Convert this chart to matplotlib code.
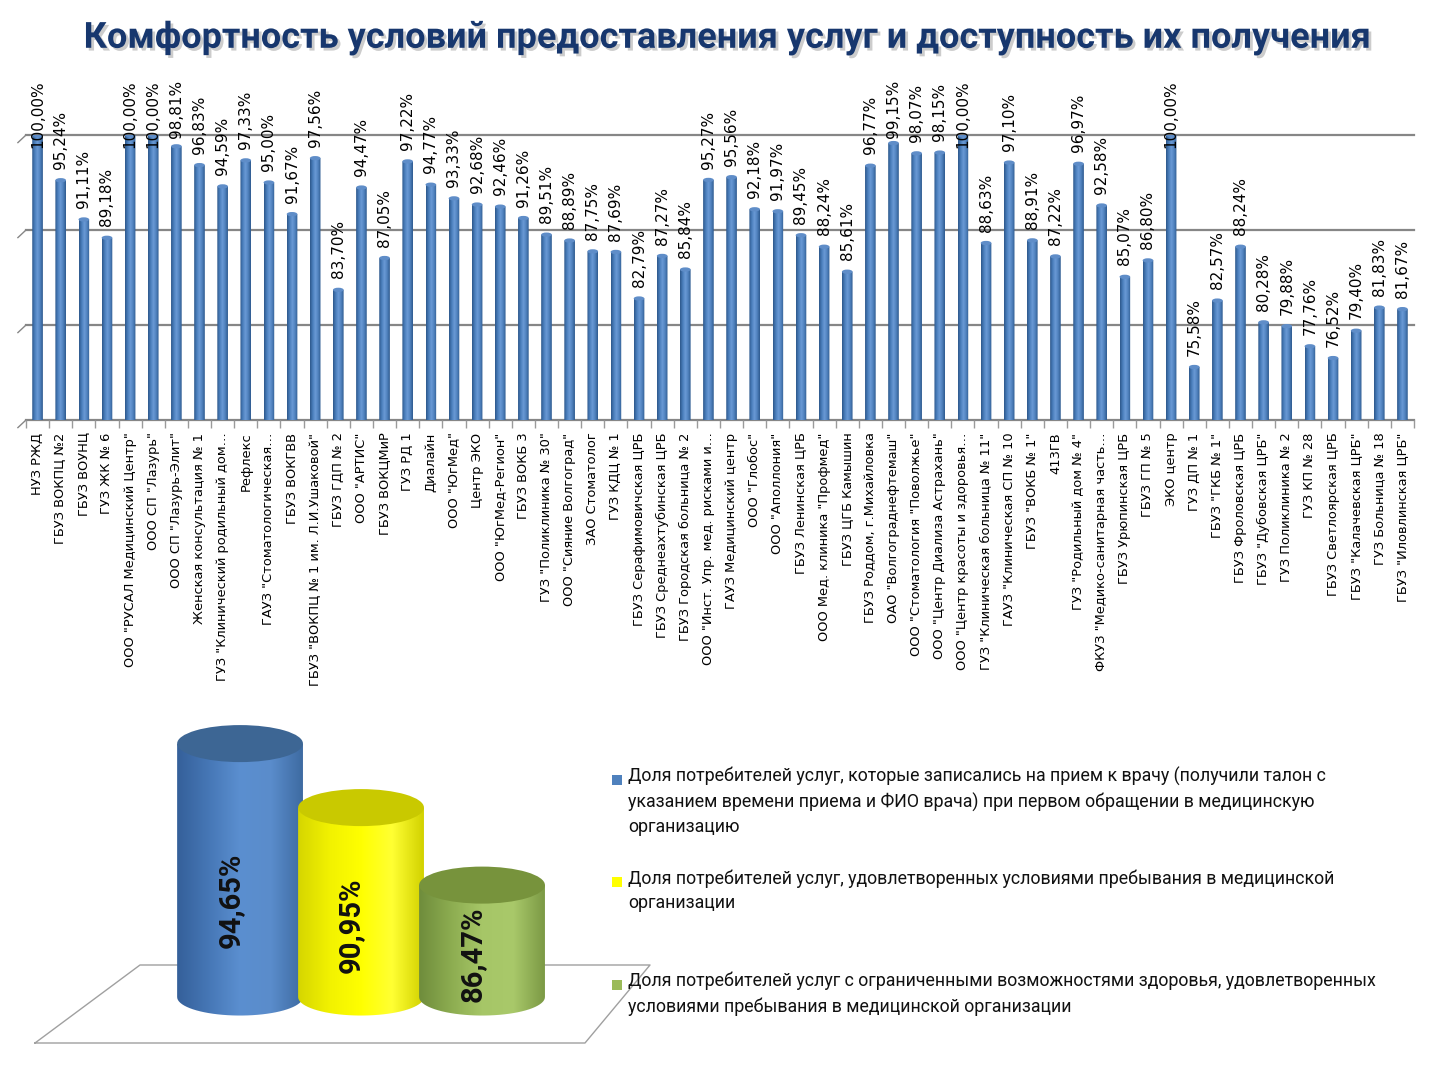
import numpy as np
import matplotlib
matplotlib.use("Agg")
import matplotlib.pyplot as plt
from matplotlib.colors import LinearSegmentedColormap
from matplotlib.patches import Ellipse, PathPatch
from matplotlib.path import Path
from matplotlib.lines import Line2D
from matplotlib.patches import Rectangle
import matplotlib.patheffects as pe

# --- data -------------------------------------------------------------
title = "Комфортность условий предоставления услуг и доступность их получения"

orgs = [
    "НУЗ РЖД", "ГБУЗ ВОКПЦ №2", "ГБУЗ ВОУНЦ", "ГУЗ ЖК № 6",
    "ООО \"РУСАЛ Медицинский Центр\"", "ООО СП \"Лазурь\"", "ООО СП \"Лазурь-Элит\"",
    "Женская консультация № 1", "ГУЗ \"Клинический родильный дом…", "Рефлекс",
    "ГАУЗ \"Стоматологическая…", "ГБУЗ ВОКГВВ", "ГБУЗ \"ВОКПЦ № 1 им. Л.И.Ушаковой\"",
    "ГБУЗ ГДП № 2", "ООО \"АРТИС\"", "ГБУЗ ВОКЦМиР", "ГУЗ РД 1", "Диалайн",
    "ООО \"ЮгМед\"", "Центр ЭКО", "ООО \"ЮгМед-Регион\"", "ГБУЗ ВОКБ 3",
    "ГУЗ \"Поликлиника № 30\"", "ООО \"Сияние Волгоград\"", "ЗАО Стоматолог",
    "ГУЗ КДЦ № 1", "ГБУЗ Серафимовичская ЦРБ", "ГБУЗ Среднеахтубинская ЦРБ",
    "ГБУЗ Городская больница № 2", "ООО \"Инст. Упр. мед. рисками и…",
    "ГАУЗ Медицинский центр", "ООО \"Глобос\"", "ООО \"Аполлония\"",
    "ГБУЗ Ленинская ЦРБ", "ООО Мед. клиника \"Профмед\"", "ГБУЗ ЦГБ Камышин",
    "ГБУЗ Роддом, г.Михайловка", "ОАО \"Волгограднефтемаш\"",
    "ООО \"Стоматология \"Поволжье\"", "ООО \"Центр Диализа Астрахань\"",
    "ООО \"Центр красоты и здоровья…", "ГУЗ \"Клиническая больница № 11\"",
    "ГАУЗ \"Клиническая СП № 10", "ГБУЗ \"ВОКБ № 1\"", "413ГВ",
    "ГУЗ \"Родильный дом № 4\"", "ФКУЗ \"Медико-санитарная часть…",
    "ГБУЗ Урюпинская ЦРБ", "ГБУЗ ГП № 5", "ЭКО центр", "ГУЗ ДП № 1",
    "ГБУЗ \"ГКБ № 1\"", "ГБУЗ Фроловская ЦРБ", "ГБУЗ \"Дубовская ЦРБ\"",
    "ГУЗ Поликлиника № 2", "ГУЗ КП № 28", "ГБУЗ Светлоярская ЦРБ",
    "ГБУЗ \"Калачевская ЦРБ\"", "ГУЗ Больница № 18", "ГБУЗ \"Иловлинская ЦРБ\"",
]

values = [
    100.00, 95.24, 91.11, 89.18, 100.00, 100.00, 98.81, 96.83, 94.59, 97.33,
    95.00, 91.67, 97.56, 83.70, 94.47, 87.05, 97.22, 94.77, 93.33, 92.68,
    92.46, 91.26, 89.51, 88.89, 87.75, 87.69, 82.79, 87.27, 85.84, 95.27,
    95.56, 92.18, 91.97, 89.45, 88.24, 85.61, 96.77, 99.15, 98.07, 98.15,
    100.00, 88.63, 97.10, 88.91, 87.22, 96.97, 92.58, 85.07, 86.80, 100.00,
    75.58, 82.57, 88.24, 80.28, 79.88, 77.76, 76.52, 79.40, 81.83, 81.67,
]

summary_labels = [
    "Доля потребителей услуг, которые записались на прием к врачу (получили талон с\n"
    "указанием времени приема и ФИО врача) при первом обращении в медицинскую\n"
    "организацию",
    "Доля потребителей услуг, удовлетворенных условиями пребывания в медицинской\n"
    "организации",
    "Доля потребителей услуг с ограниченными возможностями здоровья, удовлетворенных\n"
    "условиями пребывания в медицинской организации",
]
summary_values = [94.65, 90.95, 86.47]
summary_colors = ["#4F81BD", "#FFFF00", "#9BBB59"]
summary_shades = [
    ["#35609A", "#4677B6", "#5B8FD0", "#5A8CCB", "#3E6BA2"],
    ["#D6D600", "#F2F200", "#FFFF00", "#FFFF33", "#D2D200"],
    ["#6F8C3C", "#8CAC50", "#A6C667", "#A9C96A", "#7C9A45"],
]
summary_tops = ["#3D6694", "#C9C900", "#77933C"]


def pct(v):
    return f"{v:.2f}".replace(".", ",") + "%"


def cylinder(ax, x, base, top, w, eh, shades, topcolor, z):
    t = np.linspace(np.pi, 2 * np.pi, 40)
    pts = [(x - w / 2, top)]
    pts += list(zip(x + w / 2 * np.cos(t), base + eh / 2 * np.sin(t)))
    pts += [(x + w / 2, top), (x - w / 2, top)]
    codes = [Path.MOVETO] + [Path.LINETO] * (len(pts) - 2) + [Path.CLOSEPOLY]
    body = PathPatch(Path(pts, codes), facecolor="none", edgecolor="none", zorder=z)
    ax.add_patch(body)
    cmap = LinearSegmentedColormap.from_list("c", shades)
    grad = np.linspace(0, 1, 128).reshape(1, -1)
    im = ax.imshow(grad, cmap=cmap, aspect="auto", zorder=z,
                   extent=[x - w / 2, x + w / 2, base - eh / 2, top])
    im.set_clip_path(body)
    ax.add_patch(Ellipse((x, top), w, eh, facecolor=topcolor, edgecolor="none", zorder=z + 0.5))


plt.rcParams["font.family"] = ["DejaVu Sans"]
fig = plt.figure(figsize=(14.4, 10.8), dpi=100)

fig.text(0.505, 0.965, title, ha="center", va="center", fontsize=26, fontweight="bold",
         color="#17376E", family=["Roboto", "DejaVu Sans"],
         path_effects=[pe.withSimplePatchShadow(offset=(2, -2), shadow_rgbFace="#8F8F8F", alpha=0.45)])

# --- top chart: per-organisation bars --------------------------------
ax = fig.add_axes([26 / 1440, 1 - 420 / 1080, 1388 / 1440, 285 / 1080])
n = len(values)
x = np.arange(n)
bar_shades = ["#2C568A", "#4A7EBB", "#6A9AD6", "#4F81BD", "#2E5A8E"]
for i, v in enumerate(values):
    cylinder(ax, x[i], 70, v, 0.46, 0.45, bar_shades, "#5F8DC8", 3)

ax.set_xlim(-0.5, n - 0.5)
ax.set_ylim(70, 100)
for g in [70, 80, 90, 100]:
    ax.axhline(g, color="#868686", lw=1.6, zorder=1, clip_on=False)
    ax.plot([-0.85, -0.5], [g - 0.8, g], color="#868686", lw=1, clip_on=False, zorder=1)
for s in ax.spines.values():
    s.set_visible(False)
ax.set_yticks([])
ax.set_xticks(x)
ax.set_xticklabels(orgs, rotation=90, fontsize=9.4)
ax.set_xticks(np.arange(-0.5, n, 1), minor=True)
ax.tick_params(axis="x", which="major", length=0, pad=9)
ax.tick_params(axis="x", which="minor", length=6, color="#9A9A9A", width=1)

texts = []
for i, v in enumerate(values):
    texts.append(ax.text(x[i], v + 1.2, pct(v), rotation=90, ha="center", va="bottom",
                         fontsize=11, clip_on=False, zorder=6))

fig.canvas.draw()
r = fig.canvas.get_renderer()
limit = 1080 - 80
for t in texts:
    bb = t.get_window_extent(r)
    if bb.y1 > limit:
        t.set_y(ax.transData.inverted().transform((0, limit))[1])
        t.set_va("top")

# --- bottom chart: summary cylinders ---------------------------------
ax2 = fig.add_axes([30 / 1440, 20 / 1080, 570 / 1440, 360 / 1080])
ax2.set_axis_off()
base = 80
for i, v in enumerate(summary_values):
    cylinder(ax2, i, base, v, 1.04, 2.14, summary_shades[i], summary_tops[i], 2 + 2 * i)
    ax2.text(i - 0.08, base + (v - base) * 0.38, pct(v), rotation=90, ha="center", va="center",
             fontsize=21, fontweight="bold", color="#111111", family=["Roboto", "DejaVu Sans"],
             zorder=20)
ax2.set_xlim(-1.736, 2.975)
ax2.set_ylim(76.36, 97.17)

# floor of the 3-D chart
floor = [(35, 1043), (140, 965), (650, 965), (585, 1043), (35, 1043)]
fx = [p[0] / 1440 for p in floor]
fy = [1 - p[1] / 1080 for p in floor]
fig.add_artist(Line2D(fx, fy, color="#A0A0A0", lw=1, zorder=0))

# legend
slots = [780, 882, 985]
for lab, col, sy in zip(summary_labels, summary_colors, slots):
    fig.add_artist(Rectangle((612 / 1440, 1 - (sy + 5) / 1080), 10 / 1440, 10 / 1080,
                             facecolor=col, edgecolor="none", transform=fig.transFigure))
    fig.text(628 / 1440, 1 - (sy - 13) / 1080, lab, ha="left", va="top", fontsize=12.8,
             linespacing=1.45, color="#111111", family=["Roboto", "DejaVu Sans"])

fig.savefig("out.png", dpi=100)
